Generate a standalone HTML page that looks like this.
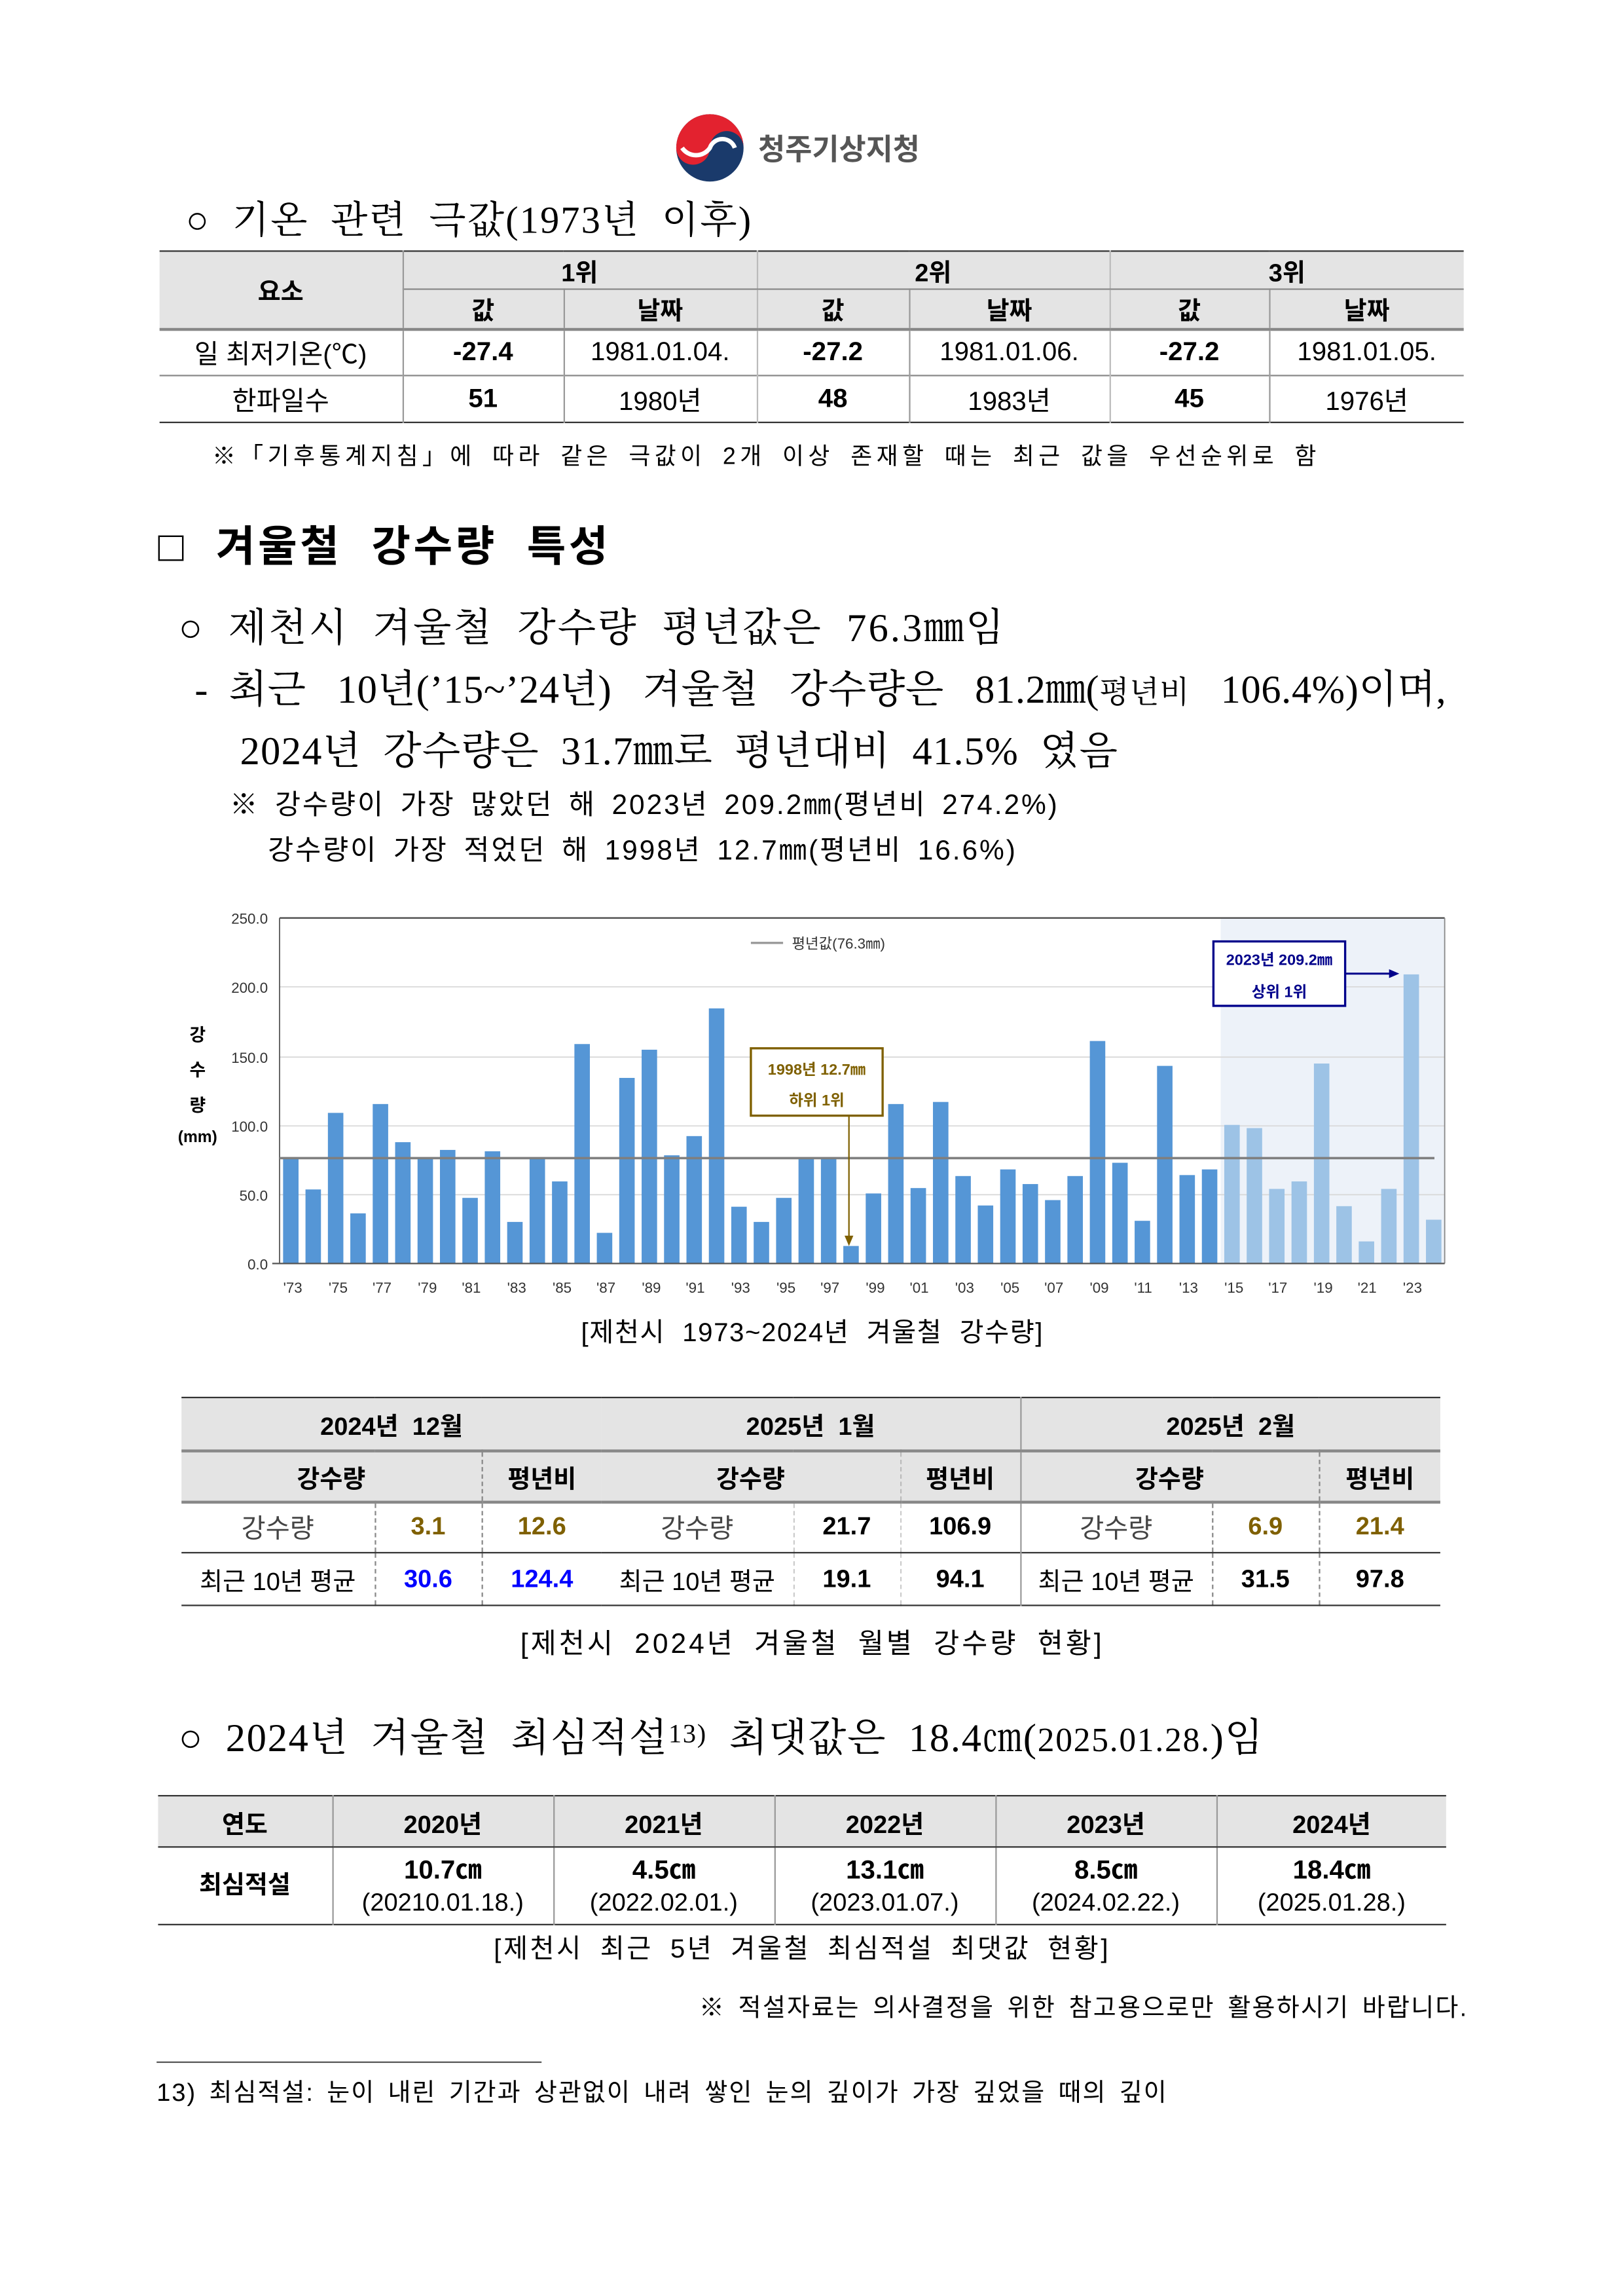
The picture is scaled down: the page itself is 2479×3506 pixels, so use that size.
<!DOCTYPE html>
<html><head><meta charset="utf-8">
<style>
html,body{margin:0;padding:0;background:#fff;}
body{width:2479px;height:3504px;overflow:hidden;position:relative;}
#c{position:absolute;left:0;top:0;width:1110px;height:1568px;transform:scale(2.2357);transform-origin:0 0;font-family:"Liberation Sans","Noto Sans CJK KR",sans-serif;color:#000;}
.a{position:absolute;white-space:nowrap;}
.serif{font-family:"Liberation Serif","Noto Serif CJK SC",serif;letter-spacing:1px;}
table{position:absolute;border-collapse:collapse;table-layout:fixed;}
td{text-align:center;padding:0;font-size:17px;}
.h{background:#e4e4e4;font-weight:bold;}
</style></head><body><div id="c">

<!-- logo -->
<svg class="a" style="left:458px;top:74px" width="54" height="54" viewBox="0 0 54 54">
<circle cx="27" cy="27" r="23" fill="#1a3a6b"/>
<path d="M27 4 A23 23 0 0 1 50 27 A11.5 11.5 0 0 0 27 27 A11.5 11.5 0 0 1 4 27 A23 23 0 0 1 27 4Z" fill="#e3222f"/>
<path d="M8 27 A11.5 11.5 0 0 0 27 27 A9 9 0 0 1 44 27" fill="none" stroke="#fff" stroke-width="3"/>
</svg>
<div class="a" style="left:518px;top:86px;font-size:20px;font-weight:bold;color:#555;">청주기상지청</div>

<div class="a serif" style="left:127px;top:130px;font-size:26px;">○ &nbsp;기온 &nbsp;관련 &nbsp;극값(1973년 &nbsp;이후)</div>

<table style="left:109px;top:171px;width:891px;border-top:1.5px solid #333;border-bottom:1px solid #333;">
<colgroup><col style="width:166px"><col style="width:110px"><col style="width:132px"><col style="width:104px"><col style="width:137px"><col style="width:109px"><col style="width:133px"></colgroup>
<tr style="height:26px"><td class="h" rowspan="2" style="border-right:1px solid #999;border-bottom:2px solid #888;">요소</td><td class="h" colspan="2" style="border-right:1px solid #bbb;border-bottom:1.5px solid #888">1위</td><td class="h" colspan="2" style="border-right:1px solid #bbb;border-bottom:1.5px solid #888">2위</td><td class="h" colspan="2" style="border-bottom:1.5px solid #888">3위</td></tr>
<tr style="height:27px"><td class="h" style="border-right:1px solid #999;border-bottom:2px solid #888">값</td><td class="h" style="border-right:1px solid #bbb;border-bottom:2px solid #888">날짜</td><td class="h" style="border-right:1px solid #999;border-bottom:2px solid #888">값</td><td class="h" style="border-right:1px solid #bbb;border-bottom:2px solid #888">날짜</td><td class="h" style="border-right:1px solid #999;border-bottom:2px solid #888">값</td><td class="h" style="border-bottom:2px solid #888">날짜</td></tr>
<tr style="height:32px;border-bottom:1.5px solid #888"><td style="border-right:1px solid #999;font-size:18px">일 최저기온(℃)</td><td style="font-weight:bold;border-right:1px solid #999;font-size:18px">-27.4</td><td style="border-right:1px solid #bbb;font-size:18px">1981.01.04.</td><td style="font-weight:bold;border-right:1px solid #999;font-size:18px">-27.2</td><td style="border-right:1px solid #bbb;font-size:18px">1981.01.06.</td><td style="font-weight:bold;border-right:1px solid #999;font-size:18px">-27.2</td><td style="font-size:18px">1981.01.05.</td></tr>
<tr style="height:32px"><td style="border-right:1px solid #999;font-size:18px">한파일수</td><td style="font-weight:bold;border-right:1px solid #999;font-size:18px">51</td><td style="border-right:1px solid #bbb;font-size:18px">1980년</td><td style="font-weight:bold;border-right:1px solid #999;font-size:18px">48</td><td style="border-right:1px solid #bbb;font-size:18px">1983년</td><td style="font-weight:bold;border-right:1px solid #999;font-size:18px">45</td><td style="font-size:18px">1976년</td></tr>
</table>
<div class="a" style="left:145px;top:298px;font-size:16px;letter-spacing:2.9px;word-spacing:4px;">※「기후통계지침」에 따라 같은 극값이 2개 이상 존재할 때는 최근 값을 우선순위로 함</div>

<div class="a" style="left:108px;top:350px;font-size:29px;font-weight:bold;letter-spacing:2px;">□ &nbsp;겨울철 &nbsp;강수량 &nbsp;특성</div>
<div class="a serif" style="left:122px;top:407px;font-size:27px;letter-spacing:1.4px;">○ &nbsp;제천시 &nbsp;겨울철 &nbsp;강수량 &nbsp;평년값은 &nbsp;76.3㎜임</div>
<div class="a serif" style="left:133px;top:449px;font-size:27px;letter-spacing:0.3px;">- &nbsp;최근 &nbsp;&nbsp;10년(’15~’24년) &nbsp;&nbsp;겨울철 &nbsp;&nbsp;강수량은 &nbsp;&nbsp;81.2㎜(<span style="font-size:21px">평년비</span> &nbsp;&nbsp;106.4%)이며,</div>
<div class="a serif" style="left:164px;top:491px;font-size:27px;letter-spacing:0.6px;">2024년 &nbsp;강수량은 &nbsp;31.7㎜로 &nbsp;평년대비 &nbsp;41.5% &nbsp;였음</div>
<div class="a" style="left:157px;top:535px;font-size:19px;letter-spacing:1.3px;word-spacing:4px;">※ 강수량이 가장 많았던 해 2023년 209.2㎜(평년비 274.2%)</div>
<div class="a" style="left:183px;top:566px;font-size:19px;letter-spacing:1.3px;word-spacing:4px;">강수량이 가장 적었던 해 1998년 12.7㎜(평년비 16.6%)</div>

<!-- chart -->
<svg class="a" style="left:0;top:0" width="1100" height="900" viewBox="0 0 1100 900">
<rect x="834" y="627" width="153" height="236" fill="#edf2f9"/>
<g stroke="#d9d9d9" stroke-width="0.8">
<line x1="191" y1="816" x2="987" y2="816"/><line x1="191" y1="769" x2="987" y2="769"/><line x1="191" y1="722" x2="987" y2="722"/><line x1="191" y1="674" x2="987" y2="674"/>
</g>
<line x1="191" y1="627" x2="987" y2="627" stroke="#444" stroke-width="1"/>
<line x1="987" y1="627" x2="987" y2="863" stroke="#888" stroke-width="0.8"/>
<line x1="191" y1="627" x2="191" y2="863" stroke="#555" stroke-width="0.8"/>
<g transform="translate(193.4,863) scale(15.31,-0.944)" fill="#5596d6">
<rect x="0" width="0.69" height="76.2"/><rect x="1" width="0.69" height="53.6"/><rect x="2" width="0.69" height="109"/><rect x="3" width="0.69" height="36.3"/><rect x="4" width="0.69" height="115.4"/><rect x="5" width="0.69" height="87.8"/><rect x="6" width="0.69" height="76.2"/><rect x="7" width="0.69" height="82.2"/><rect x="8" width="0.69" height="47.5"/><rect x="9" width="0.69" height="81.2"/><rect x="10" width="0.69" height="30.1"/><rect x="11" width="0.69" height="76.2"/><rect x="12" width="0.69" height="59.4"/><rect x="13" width="0.69" height="158.8"/><rect x="14" width="0.69" height="22.2"/><rect x="15" width="0.69" height="134.3"/><rect x="16" width="0.69" height="154.7"/><rect x="17" width="0.69" height="78.3"/><rect x="18" width="0.69" height="92.2"/><rect x="19" width="0.69" height="184.6"/><rect x="20" width="0.69" height="41.1"/><rect x="21" width="0.69" height="30.1"/><rect x="22" width="0.69" height="47.5"/><rect x="23" width="0.69" height="76.2"/><rect x="24" width="0.69" height="76.2"/><rect x="25" width="0.69" height="12.7"/><rect x="26" width="0.69" height="50.7"/><rect x="27" width="0.69" height="115.4"/><rect x="28" width="0.69" height="54.6"/><rect x="29" width="0.69" height="116.9"/><rect x="30" width="0.69" height="63.3"/><rect x="31" width="0.69" height="42"/><rect x="32" width="0.69" height="68.1"/><rect x="33" width="0.69" height="57.5"/><rect x="34" width="0.69" height="45.9"/><rect x="35" width="0.69" height="63.3"/><rect x="36" width="0.69" height="161"/><rect x="37" width="0.69" height="72.9"/><rect x="38" width="0.69" height="30.9"/><rect x="39" width="0.69" height="143"/><rect x="40" width="0.69" height="64"/><rect x="41" width="0.69" height="68.1"/>
<g fill="#9dc3e6"><rect x="42" width="0.69" height="100.3"/><rect x="43" width="0.69" height="98"/><rect x="44" width="0.69" height="54"/><rect x="45" width="0.69" height="59.4"/><rect x="46" width="0.69" height="144.7"/><rect x="47" width="0.69" height="41.5"/><rect x="48" width="0.69" height="16"/><rect x="49" width="0.69" height="54"/><rect x="50" width="0.69" height="209.2"/><rect x="51" width="0.69" height="31.7"/></g>
</g>
<line x1="191" y1="791" x2="980" y2="791" stroke="#7f7f7f" stroke-width="1.6"/>
<line x1="186" y1="863" x2="987" y2="863" stroke="#555" stroke-width="1"/>
<g font-size="10" fill="#333" text-anchor="end" font-family="Liberation Sans, sans-serif">
<text x="183" y="631">250.0</text><text x="183" y="678">200.0</text><text x="183" y="726">150.0</text><text x="183" y="773">100.0</text><text x="183" y="820">50.0</text><text x="183" y="867">0.0</text>
</g>
<g font-size="10" fill="#333" text-anchor="middle" font-family="Liberation Sans, sans-serif">
<text x="200" y="883">'73</text><text x="231" y="883">'75</text><text x="261" y="883">'77</text><text x="292" y="883">'79</text><text x="322" y="883">'81</text><text x="353" y="883">'83</text><text x="384" y="883">'85</text><text x="414" y="883">'87</text><text x="445" y="883">'89</text><text x="475" y="883">'91</text><text x="506" y="883">'93</text><text x="537" y="883">'95</text><text x="567" y="883">'97</text><text x="598" y="883">'99</text><text x="628" y="883">'01</text><text x="659" y="883">'03</text><text x="690" y="883">'05</text><text x="720" y="883">'07</text><text x="751" y="883">'09</text><text x="781" y="883">'11</text><text x="812" y="883">'13</text><text x="843" y="883">'15</text><text x="873" y="883">'17</text><text x="904" y="883">'19</text><text x="934" y="883">'21</text><text x="965" y="883">'23</text>
</g>
<g font-size="12" font-weight="bold" text-anchor="middle" font-family="Liberation Sans, Noto Sans CJK KR, sans-serif">
<text x="135" y="711">강</text><text x="135" y="735">수</text><text x="135" y="759">량</text><text x="135" y="780" font-size="11">(mm)</text>
</g>
<line x1="513" y1="644" x2="535" y2="644" stroke="#999" stroke-width="1.5"/>
<text x="541" y="648" font-size="10" fill="#333" font-family="Liberation Sans, Noto Sans CJK KR, sans-serif">평년값(76.3㎜)</text>
<rect x="513" y="716" width="90" height="46" fill="#fff" stroke="#7f6000" stroke-width="1.5"/>
<g font-size="10.5" font-weight="bold" fill="#7f6000" text-anchor="middle" font-family="Liberation Sans, Noto Sans CJK KR, sans-serif"><text x="558" y="734">1998년 12.7㎜</text><text x="558" y="755">하위 1위</text></g>
<line x1="580" y1="762" x2="580" y2="845" stroke="#7f6000" stroke-width="1"/>
<path d="M577 844 L583 844 L580 851Z" fill="#7f6000"/>
<rect x="829" y="643" width="90" height="44" fill="#fff" stroke="#00008b" stroke-width="1.5"/>
<g font-size="10.5" font-weight="bold" fill="#00008b" text-anchor="middle" font-family="Liberation Sans, Noto Sans CJK KR, sans-serif"><text x="874" y="659">2023년 209.2㎜</text><text x="874" y="681">상위 1위</text></g>
<line x1="919" y1="665" x2="950" y2="665" stroke="#00008b" stroke-width="1.3"/>
<path d="M949 662 L956 665 L949 668Z" fill="#00008b"/>
</svg>
<div class="a" style="left:0;width:1110px;text-align:center;top:896px;font-size:18px;letter-spacing:0.7px;word-spacing:6px;">[제천시 1973~2024년 겨울철 강수량]</div>

<table style="left:124px;top:954px;width:860px;border-top:1.5px solid #333;border-bottom:1.5px solid #333;">
<colgroup><col style="width:132px"><col style="width:73px"><col style="width:82px"><col style="width:131px"><col style="width:73px"><col style="width:82px"><col style="width:131px"><col style="width:73px"><col style="width:83px"></colgroup>
<tr style="height:36px"><td class="h" colspan="3" style="border-bottom:2px solid #888">2024년 &nbsp;12월</td><td class="h" colspan="3" style="border-bottom:2px solid #888">2025년 &nbsp;1월</td><td class="h" colspan="3" style="border-left:1px solid #999;border-bottom:2px solid #888">2025년 &nbsp;2월</td></tr>
<tr style="height:35px"><td class="h" colspan="2" style="border-bottom:2px solid #888">강수량</td><td class="h" style="border-left:1px dashed #888;border-bottom:2px solid #888">평년비</td><td class="h" colspan="2" style="border-bottom:2px solid #888">강수량</td><td class="h" style="border-left:1px dashed #bbb;border-bottom:2px solid #888">평년비</td><td class="h" colspan="2" style="border-left:1px solid #999;border-bottom:2px solid #888">강수량</td><td class="h" style="border-left:1px dashed #888;border-bottom:2px solid #888">평년비</td></tr>
<tr style="height:35px;border-bottom:1px solid #333"><td style="color:#444;font-size:18px">강수량</td><td style="border-left:1px dashed #888;font-weight:bold;color:#7f6000">3.1</td><td style="border-left:1px dashed #888;font-weight:bold;color:#7f6000">12.6</td><td style="color:#444;font-size:18px">강수량</td><td style="border-left:1px dashed #ccc;font-weight:bold">21.7</td><td style="border-left:1px dashed #ccc;font-weight:bold">106.9</td><td style="border-left:1px solid #999;color:#444;font-size:18px">강수량</td><td style="border-left:1px dashed #888;font-weight:bold;color:#7f6000">6.9</td><td style="border-left:1px dashed #888;font-weight:bold;color:#7f6000">21.4</td></tr>
<tr style="height:36px"><td>최근 10년 평균</td><td style="border-left:1px dashed #888;font-weight:bold;color:#0000ff">30.6</td><td style="border-left:1px dashed #888;font-weight:bold;color:#0000ff">124.4</td><td>최근 10년 평균</td><td style="border-left:1px dashed #ccc;font-weight:bold">19.1</td><td style="border-left:1px dashed #ccc;font-weight:bold">94.1</td><td style="border-left:1px solid #999">최근 10년 평균</td><td style="border-left:1px dashed #888;font-weight:bold">31.5</td><td style="border-left:1px dashed #888;font-weight:bold">97.8</td></tr>
</table>
<div class="a" style="left:0;width:1110px;text-align:center;top:1108px;font-size:19px;letter-spacing:1.8px;word-spacing:6px;">[제천시 2024년 겨울철 월별 강수량 현황]</div>

<div class="a serif" style="left:122px;top:1165px;font-size:27px;letter-spacing:0.8px;">○ &nbsp;2024년 &nbsp;겨울철 &nbsp;최심적설<span style="font-size:18px;vertical-align:6px">13)</span> &nbsp;최댓값은 &nbsp;18.4㎝(<span style="font-size:23px">2025.01.28.</span>)임</div>

<table style="left:108px;top:1226px;width:880px;border-top:1.5px solid #333;border-bottom:1.5px solid #333;">
<colgroup><col style="width:119px"><col style="width:151px"><col style="width:151px"><col style="width:151px"><col style="width:151px"><col style="width:157px"></colgroup>
<tr style="height:35px"><td class="h" style="border-right:1px solid #999;border-bottom:1px solid #333">연도</td><td class="h" style="border-right:1px solid #999;border-bottom:1px solid #333">2020년</td><td class="h" style="border-right:1px solid #999;border-bottom:1px solid #333">2021년</td><td class="h" style="border-right:1px solid #999;border-bottom:1px solid #333">2022년</td><td class="h" style="border-right:1px solid #999;border-bottom:1px solid #333">2023년</td><td class="h" style="border-bottom:1px solid #333">2024년</td></tr>
<tr style="height:53px;line-height:22px"><td style="font-weight:bold;border-right:1px solid #999">최심적설</td><td style="border-right:1px solid #999"><b style="font-size:18px">10.7㎝</b><br>(20210.01.18.)</td><td style="border-right:1px solid #999"><b style="font-size:18px">4.5㎝</b><br>(2022.02.01.)</td><td style="border-right:1px solid #999"><b style="font-size:18px">13.1㎝</b><br>(2023.01.07.)</td><td style="border-right:1px solid #999"><b style="font-size:18px">8.5㎝</b><br>(2024.02.22.)</td><td><b style="font-size:18px">18.4㎝</b><br>(2025.01.28.)</td></tr>
</table>
<div class="a" style="left:0;width:1096px;text-align:center;top:1317px;font-size:18px;letter-spacing:1.6px;word-spacing:5px;">[제천시 최근 5년 겨울철 최심적설 최댓값 현황]</div>
<div class="a" style="right:107px;top:1357px;font-size:17px;letter-spacing:1px;word-spacing:3px;">※ 적설자료는 의사결정을 위한 참고용으로만 활용하시기 바랍니다.</div>
<div class="a" style="left:107px;top:1408px;width:263px;border-top:1px solid #555;"></div>
<div class="a" style="left:107px;top:1415px;font-size:17px;letter-spacing:0.9px;word-spacing:3px;">13) 최심적설: 눈이 내린 기간과 상관없이 내려 쌓인 눈의 깊이가 가장 깊었을 때의 깊이</div>

</div></body></html>
